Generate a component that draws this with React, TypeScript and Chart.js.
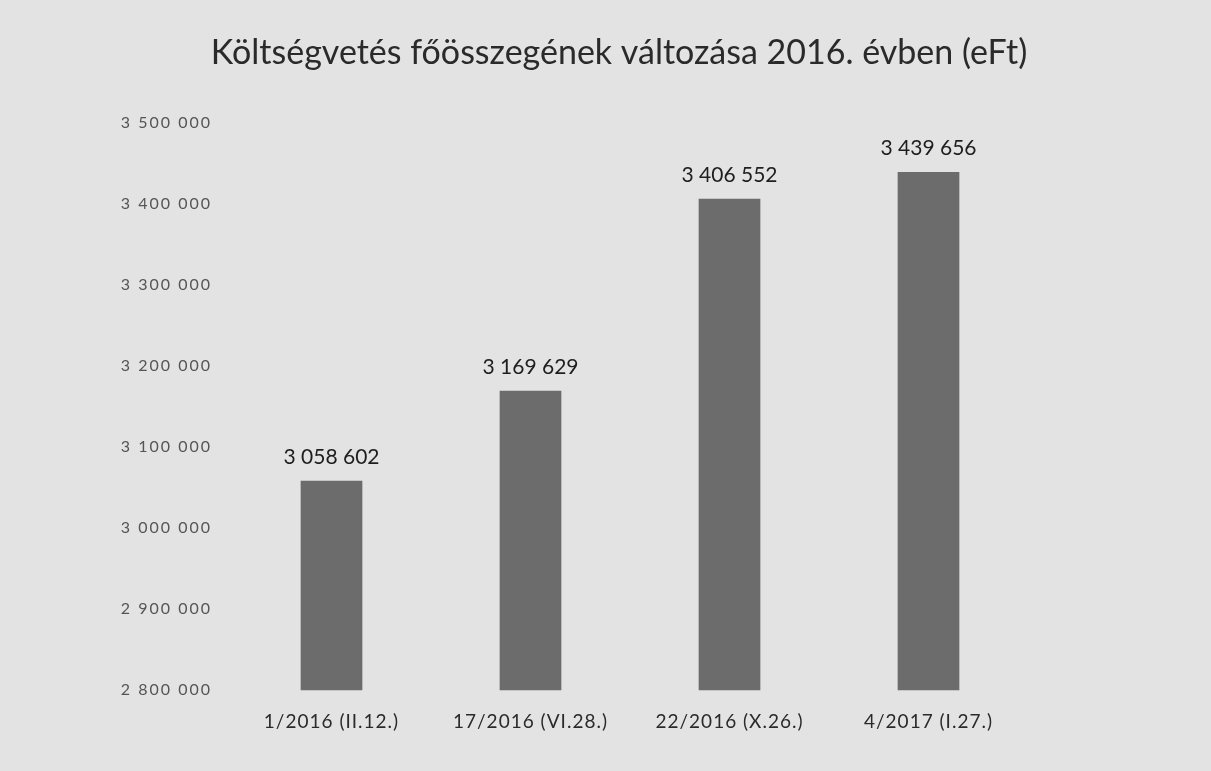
import React, { useEffect, useRef } from "react";
import { Chart, registerables } from "chart.js";

Chart.register(...registerables);

const TITLE = "Költségvetés főösszegének változása 2016. évben (eFt)";
const categories = ["1/2016 (II.12.)", "17/2016 (VI.28.)", "22/2016 (X.26.)", "4/2017 (I.27.)"];
const values = [3058602, 3169629, 3406552, 3439656];
const yMin = 2800000;
const yMax = 3500000;
const yStep = 100000;

const fmt = (v: number) => String(Math.round(v)).replace(/\B(?=(\d{3})+(?!\d))/g, " ");

const FONT = "Lato, 'Open Sans', sans-serif";

const titleAndLabels = {
  id: "titleAndLabels",
  afterDatasetsDraw(chart: any) {
    const ctx = chart.ctx;
    const meta = chart.getDatasetMeta(0);
    ctx.save();
    ctx.font = `21px ${FONT}`;
    ctx.fillStyle = "#1e1e1e";
    ctx.textAlign = "center";
    ctx.textBaseline = "alphabetic";
    meta.data.forEach((el: any, i: number) => {
      ctx.fillText(fmt(values[i]), el.x, el.y - 17);
    });
    ctx.font = `34px ${FONT}`;
    ctx.fillStyle = "#2a2a2a";
    ctx.fillText(TITLE, 619, 64);
    ctx.restore();
  },
};

function spaced(spacing: string) {
  return (scale: any) => {
    if (scale.__spaced) return;
    scale.__spaced = true;
    const orig = scale.drawLabels;
    scale.drawLabels = function (area: any) {
      const ctx = this.ctx;
      ctx.save();
      try {
        ctx.letterSpacing = spacing;
      } catch (e) {}
      orig.call(this, area);
      ctx.restore();
    };
  };
}

export default function App() {
  const ref = useRef<HTMLCanvasElement | null>(null);
  useEffect(() => {
    if (!ref.current) return;
    const ySpace = spaced("2px");
    const xSpace = spaced("1px");
    const chart = new Chart(ref.current, {
      type: "bar",
      data: {
        labels: categories,
        datasets: [
          {
            data: values,
            backgroundColor: "#6c6c6c",
            borderWidth: 0,
            barPercentage: 0.62,
            categoryPercentage: 0.5,
          },
        ],
      },
      options: {
        animation: false,
        responsive: false,
        maintainAspectRatio: false,
        layout: { padding: { top: 123, left: 0, right: 183, bottom: 26 } },
        plugins: {
          legend: { display: false },
          tooltip: { enabled: false },
          title: { display: false },
        },
        scales: {
          x: {
            grid: { display: false },
            border: { display: false },
            afterFit(scale: any) {
              xSpace(scale);
            },
            ticks: {
              color: "#2a2a2a",
              font: { family: FONT, size: 19 },
              padding: 12,
              maxRotation: 0,
            },
          },
          y: {
            min: yMin,
            max: yMax,
            grid: { display: false },
            border: { display: false },
            afterFit(scale: any) {
              scale.width = 232;
              ySpace(scale);
            },
            ticks: {
              stepSize: yStep,
              color: "#555555",
              font: { family: FONT, size: 16 },
              padding: 12,
              callback: (v: any) => fmt(Number(v)),
            },
          },
        },
      },
      plugins: [titleAndLabels],
    });
    return () => chart.destroy();
  }, []);
  return (
    <div style={{ position: "fixed", left: 0, top: 0, width: 1211, height: 771, background: "#e3e3e3" }}>
      <canvas ref={ref} width={1211} height={771} style={{ display: "block" }} />
    </div>
  );
}
